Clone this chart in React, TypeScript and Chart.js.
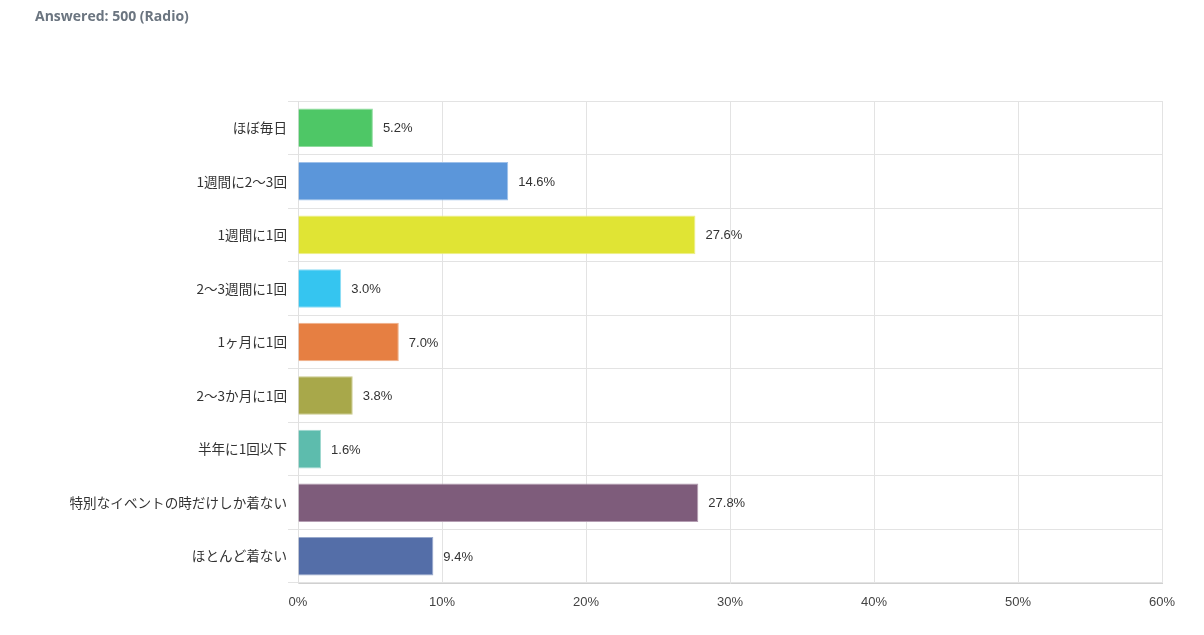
import React, { useEffect, useRef } from "react";
import { Chart, registerables } from "chart.js";

Chart.register(...registerables);

const TITLE = "Answered: 500 (Radio)";

const categories = [
  "ほぼ毎日",
  "1週間に2〜3回",
  "1週間に1回",
  "2〜3週間に1回",
  "1ヶ月に1回",
  "2〜3か月に1回",
  "半年に1回以下",
  "特別なイベントの時だけしか着ない",
  "ほとんど着ない",
];

const values = [5.2, 14.6, 27.6, 3.0, 7.0, 3.8, 1.6, 27.8, 9.4];

const barColors = [
  "#4ec766",
  "#5b96da",
  "#e0e434",
  "#35c5f0",
  "#e67f42",
  "#a8a84a",
  "#5dbcad",
  "#7e5c7b",
  "#546ea8",
];

const borderColors = [
  "#8fdc9e",
  "#9dc0ea",
  "#eeef8a",
  "#8ddcf5",
  "#f0b08a",
  "#cbcb8c",
  "#9fd8cf",
  "#b49db2",
  "#98a9cc",
];

const xTicks = [0, 10, 20, 30, 40, 50, 60];

const valueLabelPlugin = {
  id: "valueLabels",
  afterDatasetsDraw(chart: any) {
    const ctx = chart.ctx;
    const meta = chart.getDatasetMeta(0);
    ctx.save();
    ctx.font = '13px "Liberation Sans", Arial, sans-serif';
    ctx.fillStyle = "#333333";
    ctx.textAlign = "left";
    ctx.textBaseline = "middle";
    meta.data.forEach((bar: any, i: number) => {
      ctx.fillText(values[i].toFixed(1) + "%", bar.x + 10, bar.y + 1);
    });
    ctx.restore();
  },
};

const titlePlugin = {
  id: "customTitle",
  afterDraw(chart: any) {
    const ctx = chart.ctx;
    ctx.save();
    ctx.font = 'bold 14px "Open Sans", sans-serif';
    ctx.fillStyle = "#6b7580";
    ctx.textAlign = "left";
    ctx.textBaseline = "middle";
    ctx.fillText(TITLE, 35, 17);
    ctx.restore();
  },
};

export default function App() {
  const canvasRef = useRef<HTMLCanvasElement | null>(null);

  useEffect(() => {
    document.body.style.margin = "0";
    const canvas = canvasRef.current;
    if (!canvas) return;
    const chart = new Chart(canvas, {
      type: "bar",
      data: {
        labels: categories,
        datasets: [
          {
            data: values,
            backgroundColor: barColors,
            borderColor: borderColors,
            borderWidth: 1,
            barPercentage: 0.72,
            categoryPercentage: 1,
          },
        ],
      },
      options: {
        indexAxis: "y",
        responsive: false,
        animation: false,
        maintainAspectRatio: false,
        layout: { padding: { top: 101, right: 42, left: 0, bottom: 0 } },
        plugins: {
          legend: { display: false },
          tooltip: { enabled: false },
          title: { display: false },
        },
        scales: {
          x: {
            min: 0,
            max: 60,
            afterBuildTicks(scale: any) {
              scale.ticks = xTicks.map((v) => ({ value: v }));
            },
            afterFit(scale: any) {
              scale.height = 52;
            },
            grid: {
              color: "#e3e3e3",
              drawTicks: false,
            },
            border: { color: "#d0d0d0" },
            ticks: {
              padding: 12,
              color: "#444444",
              font: { family: '"Liberation Sans", Arial, sans-serif', size: 13 },
              callback: (v: any) => v + "%",
            },
          },
          y: {
            afterFit(scale: any) {
              scale.width = 298;
            },
            grid: {
              offset: true,
              color: "#e3e3e3",
              tickLength: 10,
            },
            border: { color: "#e0e0e0" },
            ticks: {
              padding: 1,
              color: "#333333",
              font: { family: '"Noto Sans CJK JP", sans-serif', size: 13.6 },
            },
          },
        },
      },
      plugins: [valueLabelPlugin, titlePlugin],
    });
    return () => chart.destroy();
  }, []);

  return (
    <canvas
      ref={canvasRef}
      width={1204}
      height={635}
      style={{ display: "block", width: 1204, height: 635 }}
    />
  );
}
